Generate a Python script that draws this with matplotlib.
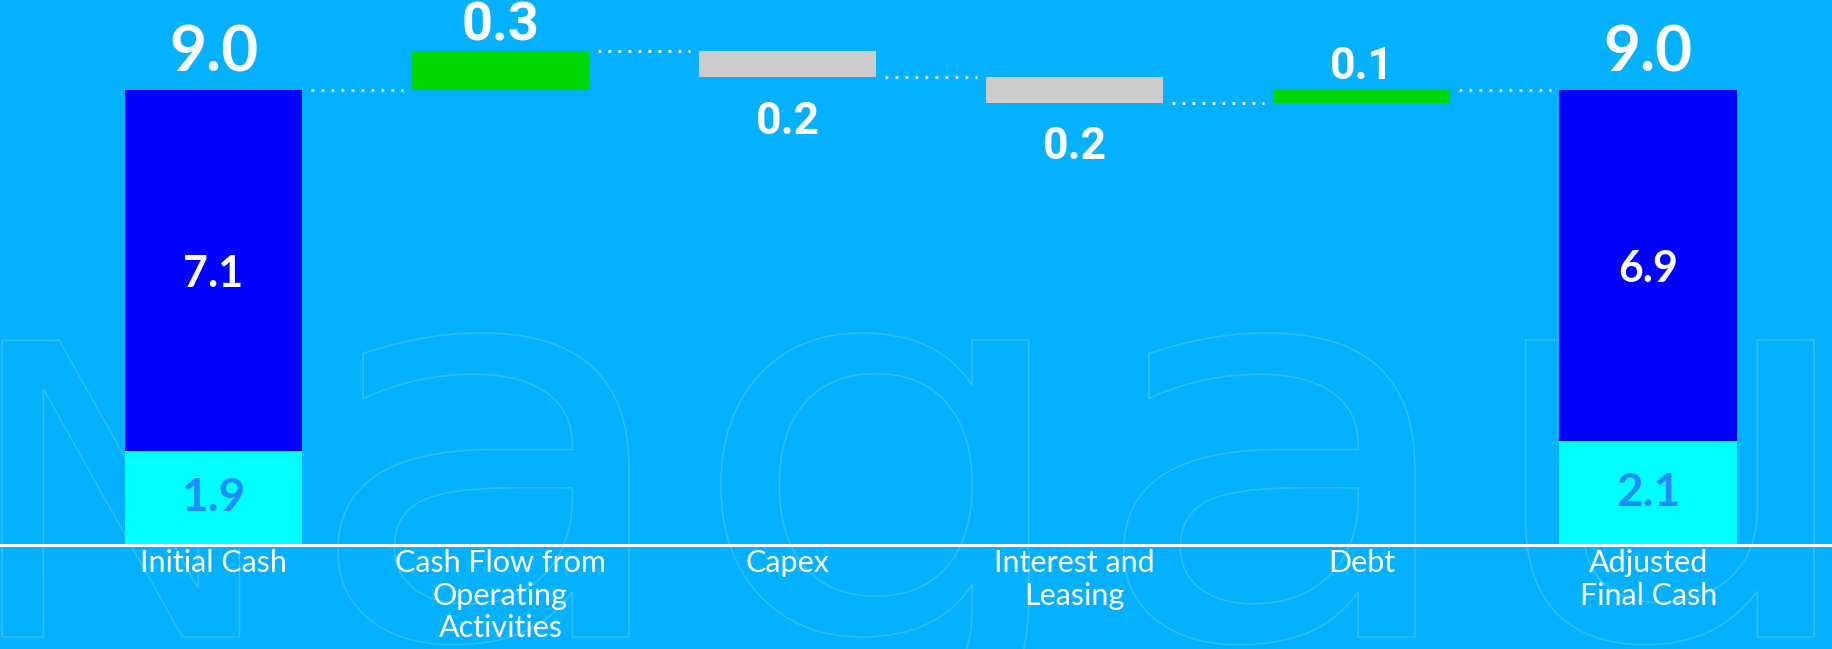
import numpy as np
import matplotlib.pyplot as plt
from matplotlib.textpath import TextPath
from matplotlib.patches import PathPatch
from matplotlib.font_manager import FontProperties
from matplotlib.transforms import Affine2D

categories = ['Initial Cash', 'Cash Flow from\nOperating\nActivities', 'Capex',
              'Interest and\nLeasing', 'Debt', 'Adjusted\nFinal Cash']
initial_parts = [1.9, 7.1]
final_parts = [2.1, 6.9]
changes = [0.3, -0.2, -0.2, 0.1]

BG = '#03B1FE'
CYAN = '#00FFFF'
BLUE = '#0000FF'
GREEN = '#00D800'
GRAY = '#CCCCCC'
INNER_DARK = '#1E8CFF'


# zoomed y axis above 8.9 so the small changes are visible
def fwd(v):
    v = np.asarray(v, dtype=float)
    return np.where(v <= 8.9, v, 8.9 + (v - 8.9) * 2.58)


def inv(t):
    t = np.asarray(t, dtype=float)
    return np.where(t <= 8.9, t, 8.9 + (t - 8.9) / 2.58)


fig = plt.figure(figsize=(18.33, 6.49), dpi=100, facecolor=BG)

# faint outlined watermark in the background
bg = fig.add_axes([0, 0, 1, 1])
bg.set_xlim(0, 1833)
bg.set_ylim(0, 649)
bg.axis('off')
fp = FontProperties(family='DejaVu Sans')
p_n = TextPath((0, 0), 'N', size=1, prop=fp)
p_rest = TextPath((0, 0), 'agau', size=1, prop=fp)
wm = dict(facecolor='none', edgecolor='white', alpha=0.18, lw=1.2)
bg.add_patch(PathPatch(p_n.transformed(Affine2D().scale(430, 407).translate(-40, 12)), **wm))
bg.add_patch(PathPatch(p_rest.transformed(Affine2D().scale(630, 543).translate(300, 12)), **wm))

ax = fig.add_axes([0, 104 / 649, 1, 545 / 649])
ax.set_facecolor('none')
ax.set_yscale('function', functions=(fwd, inv))
ax.set_ylim(0, 9.70)
ax.set_xlim(-0.744, 5.643)

w = 0.62
x = np.arange(len(categories))

# totals
for pos, parts in [(0, initial_parts), (5, final_parts)]:
    total = sum(parts)
    ax.bar(pos, parts[0], w, color=CYAN, zorder=2)
    ax.bar(pos, parts[1], w, bottom=parts[0], color=BLUE, zorder=2)
    ax.text(pos, parts[0] / 2, f'{parts[0]:.1f}', ha='center', va='center',
            fontsize=33, fontweight='bold', color=INNER_DARK, family='Lato')
    ax.text(pos, parts[0] + parts[1] / 2, f'{parts[1]:.1f}', ha='center', va='center',
            fontsize=31, fontweight='bold', color='white', family='Lato')
    ax.annotate(f'{total:.1f}', (pos, total), xytext=(0, 13), textcoords='offset points',
                ha='center', va='baseline', fontsize=46, fontweight='bold',
                color='white', family='Lato')

# floating changes
dots = dict(color='white', lw=2, linestyle=(0, (1, 2.6)), dash_capstyle='butt', zorder=1)
delta_font = [39, 32, 32, 32]
level = sum(initial_parts)
ax.plot([0 + w / 2 + 0.03, 1 - w / 2 - 0.03], [level, level], **dots)
for i, d in enumerate(changes):
    pos = i + 1
    ax.bar(pos, d, w, bottom=level, color=GREEN if d > 0 else GRAY, zorder=2)
    new = level + d
    if d > 0:
        ax.annotate(f'{abs(d):.1f}', (pos, new), xytext=(0, 8), textcoords='offset points',
                    ha='center', va='baseline', fontsize=delta_font[i], fontweight='bold',
                    color='white', family='Roboto')
    else:
        ax.annotate(f'{abs(d):.1f}', (pos, new), xytext=(0, -17), textcoords='offset points',
                    ha='center', va='top', fontsize=delta_font[i], fontweight='bold',
                    color='white', family='Roboto')
    ax.plot([pos + w / 2 + 0.03, pos + 1 - w / 2 - 0.03], [new, new], **dots)
    level = new

ax.axhline(0, color='white', lw=2.2, zorder=3, clip_on=False)

for s in ax.spines.values():
    s.set_visible(False)
ax.set_yticks([])
ax.minorticks_off()
ax.set_xticks(x, categories)
ax.tick_params(axis='x', length=0, pad=3, labelsize=22, labelcolor='white')
for lab in ax.get_xticklabels():
    lab.set_family('Lato')
    lab.set_fontweight('normal')

fig.savefig('out.png', dpi=100, facecolor=BG)
